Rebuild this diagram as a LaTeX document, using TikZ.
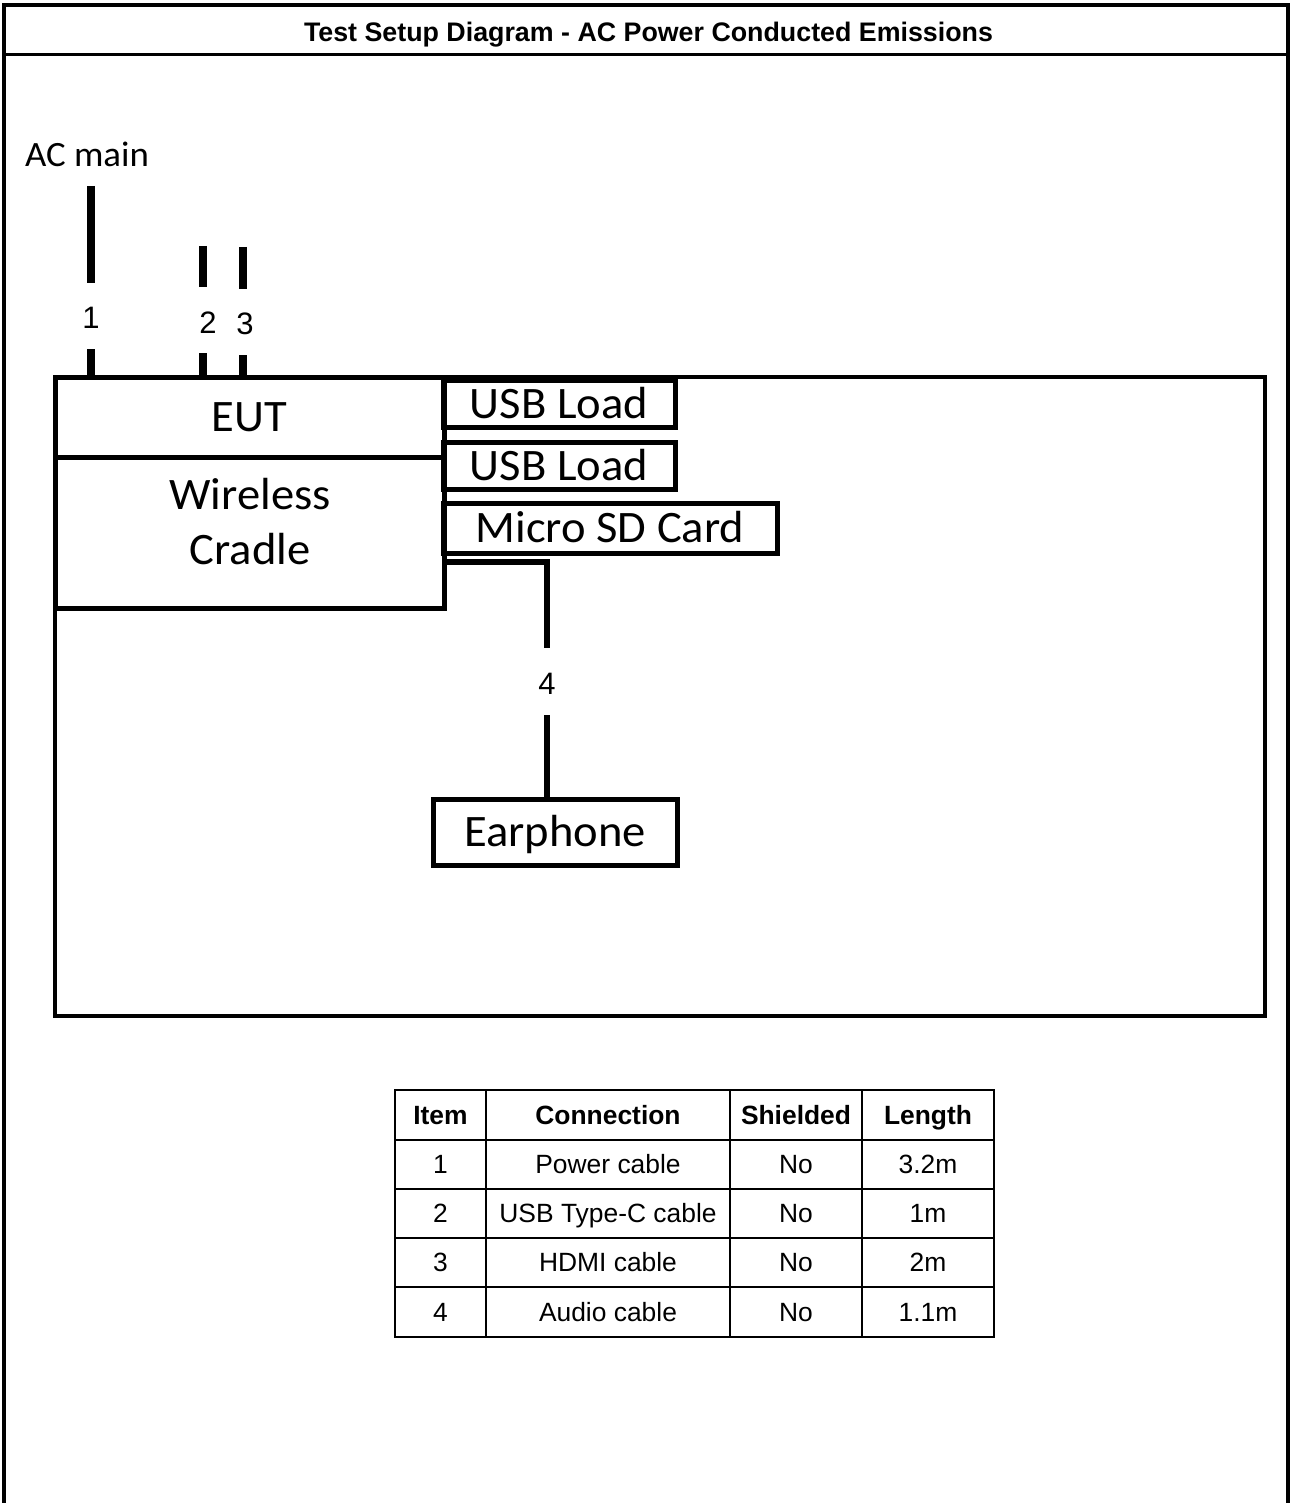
\documentclass[tikz,border=0pt]{standalone}
\usepackage{fontspec}
\setmainfont{Liberation Sans}
\newfontfamily\calib[FakeStretch=1.035]{Carlito}
\begin{document}
\begin{tikzpicture}[x=0.5pt,y=-0.5pt,
  box/.style={draw,line width=2.5pt,inner sep=0pt,font=\calib\fontsize{22.5}{27.5}\selectfont,align=center,text height=14.5pt,text depth=0pt},
  frame/.style={line width=2pt},
  cable/.style={line width=4pt},
  audio/.style={line width=3pt},
  num/.style={font=\fontsize{15.5}{18}\selectfont,inner sep=0pt,text height=11.1pt,text depth=0pt},
  cell/.style={font=\fontsize{13.2}{15}\selectfont,inner sep=0pt,text height=9.45pt,text depth=0pt},
  head/.style={font=\bfseries\fontsize{13.2}{15}\selectfont,inner sep=0pt,text height=9.45pt,text depth=0pt},
  grid/.style={line width=0.8pt}]
\useasboundingbox (0,0) rectangle (1292,1503);
% outer frame
\coordinate (fbl) at (4,1503);
\coordinate (ftl) at (4,5);
\coordinate (ftr) at (1288,5);
\coordinate (fbr) at (1288,1503);
\draw[frame] (fbl) -- (ftl) -- (ftr) -- (fbr);
\coordinate (sl) at (4,55);
\coordinate (sr) at (1288,55);
\draw[line width=1.5pt] (sl) -- (sr);
\node[head,font=\bfseries\fontsize{13.4}{15}\selectfont] (title) at (648.5,32) {Test Setup Diagram - AC Power Conducted Emissions};
% main box
\coordinate (mtl) at (55,377);
\coordinate (mbr) at (1265,1016);
\draw[frame] (mtl) rectangle (mbr);
% EUT and cradle
\node[box,minimum width=194.5pt,minimum height=40pt] (eut) at (249.5,417) {EUT};
\node[box,minimum width=194.5pt,minimum height=75.5pt] (wc) at (249.5,532.5) {};
\node[font=\calib\fontsize{22.5}{27.5}\selectfont,inner sep=0pt,text height=14.5pt,text depth=0pt] (wct) at (250,495) {Wireless};
\node[font=\calib\fontsize{22.5}{27.5}\selectfont,inner sep=0pt,text height=14.5pt,text depth=0pt] (wcb) at (250,550) {Cradle};
% peripherals
\node[box,minimum width=116pt,minimum height=23.5pt] (usb1) at (559,403.5) {USB Load};
\node[box,minimum width=116pt,minimum height=23.5pt] (usb2) at (559,465.5) {USB Load};
\node[box,minimum width=167pt,minimum height=25pt] (sd) at (610,528) {Micro SD Card};
\node[box,minimum width=122pt,minimum height=33pt] (ear) at (555,832) {Earphone};
% AC main
\node[font=\calib\fontsize{17.8}{20}\selectfont,inner sep=0pt,text height=11.5pt,text depth=0pt] (ac) at (87,155) {AC main};
% cable 1
\coordinate (c1a) at (91,186);
\coordinate (c1b) at (91,283);
\coordinate (c1c) at (91,349);
\node[num] (n1) at (91,317) {1};
\draw[cable] (c1a) -- (c1b);
\draw[cable] (c1c) -- (c1c |- eut.north);
% cable 2
\coordinate (c2a) at (203,246);
\coordinate (c2b) at (203,287);
\coordinate (c2c) at (203,353);
\node[num] (n2) at (208,322) {2};
\draw[cable] (c2a) -- (c2b);
\draw[cable] (c2c) -- (c2c |- eut.north);
% cable 3
\coordinate (c3a) at (243,247);
\coordinate (c3b) at (243,289);
\coordinate (c3c) at (243,355);
\node[num] (n3) at (245,323) {3};
\draw[cable] (c3a) -- (c3b);
\draw[cable] (c3c) -- (c3c |- eut.north);
% cable 4
\coordinate (c4a) at (547,562);
\coordinate (c4b) at (547,648);
\coordinate (c4c) at (547,715);
\node[num] (n4) at (547,683) {4};
\draw[audio] (c4a -| wc.east) -- (c4a) -- (c4b);
\draw[audio] (c4c) -- (c4c |- ear.north);
% table
\draw[grid] (395,1090) rectangle (994,1337);
\foreach \y in {1140,1189,1238,1287} \draw[grid] (395,\y) -- (994,\y);
\foreach \x in {486,730,862} \draw[grid] (\x,1090) -- (\x,1337);
\node[head] (h1) at (440.5,1115) {Item};
\node[head] (h2) at (608,1115) {Connection};
\node[head] (h3) at (796,1115) {Shielded};
\node[head] (h4) at (928,1115) {Length};
\node[cell] (r11) at (440.5,1164.5) {1};
\node[cell] (r12) at (608,1164.5) {Power cable};
\node[cell] (r13) at (796,1164.5) {No};
\node[cell] (r14) at (928,1164.5) {3.2m};
\node[cell] (r21) at (440.5,1213.5) {2};
\node[cell] (r22) at (608,1213.5) {USB Type-C cable};
\node[cell] (r23) at (796,1213.5) {No};
\node[cell] (r24) at (928,1213.5) {1m};
\node[cell] (r31) at (440.5,1262.5) {3};
\node[cell] (r32) at (608,1262.5) {HDMI cable};
\node[cell] (r33) at (796,1262.5) {No};
\node[cell] (r34) at (928,1262.5) {2m};
\node[cell] (r41) at (440.5,1312) {4};
\node[cell] (r42) at (608,1312) {Audio cable};
\node[cell] (r43) at (796,1312) {No};
\node[cell] (r44) at (928,1312) {1.1m};
\end{tikzpicture}
\end{document}
